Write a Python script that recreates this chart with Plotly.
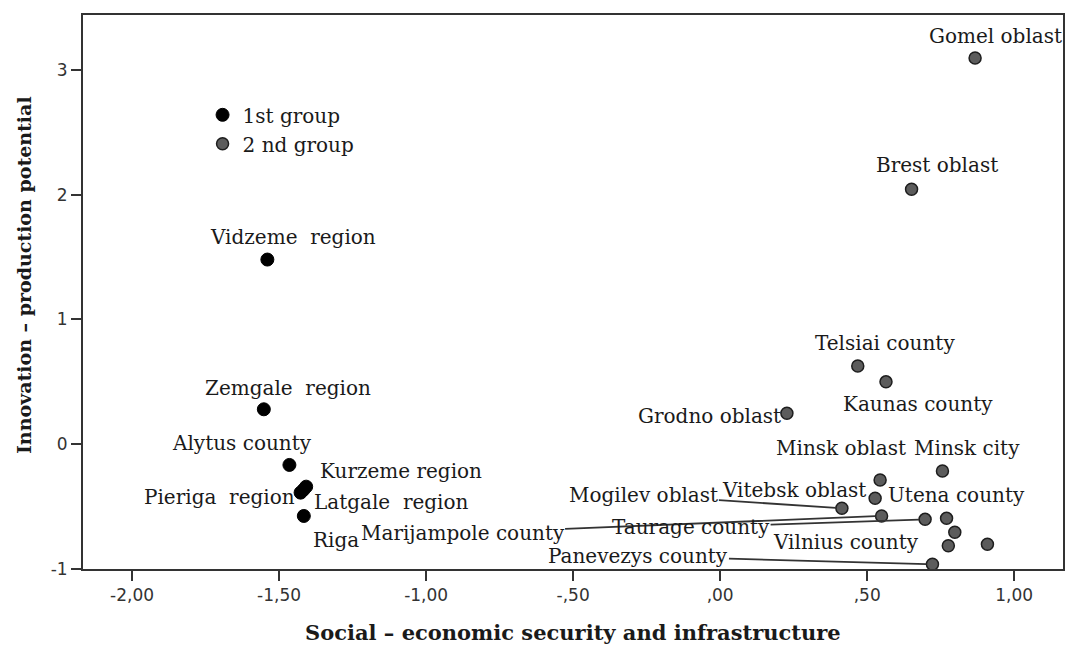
import plotly.graph_objects as go

# ---- data ----
group1_names = ["Vidzeme  region", "Zemgale  region", "Alytus county", "Kurzeme region",
                "Latgale  region", "Pieriga  region", "Riga"]
group1_x = [-1.540, -1.552, -1.465, -1.408, -1.417, -1.427, -1.416]
group1_y = [1.480, 0.280, -0.166, -0.340, -0.365, -0.388, -0.575]

group2_names = ["Gomel oblast", "Brest oblast", "Telsiai county", "Kaunas county", "Grodno oblast",
                "Minsk oblast", "Minsk city", "Vitebsk oblast", "Mogilev oblast", "Marijampole county",
                "Taurage county", "Utena county", "Klaipeda county", "Vilnius county",
                "Siauliai county", "Panevezys county"]
group2_x = [0.867, 0.651, 0.468, 0.564, 0.227, 0.544, 0.756, 0.527, 0.414, 0.549,
            0.697, 0.770, 0.798, 0.776, 0.909, 0.722]
group2_y = [3.096, 2.044, 0.627, 0.500, 0.248, -0.287, -0.214, -0.433, -0.513, -0.575,
            -0.602, -0.594, -0.706, -0.813, -0.802, -0.962]
# points shown without a label in the reference
unlabeled = ["Klaipeda county", "Siauliai county"]

group_names = ["1st group", "2 nd group"]

x_tickvals = [-2.0, -1.5, -1.0, -0.5, 0.0, 0.5, 1.0]
x_ticktext = ["-2,00", "-1,50", "-1,00", "-,50", ",00", ",50", "1,00"]
y_tickvals = [-1, 0, 1, 2, 3]
y_ticktext = ["-1", "0", "1", "2", "3"]

x_title = "Social – economic security and infrastructure"
y_title = "Innovation – production potential"

# ---- label placement (pixel offsets of label centre from point; leader line flag) ----
label_style = {
    "Vidzeme  region": (26, -23, False),
    "Zemgale  region": (24, -21, False),
    "Alytus county": (-47, -22, False),
    "Kurzeme region": (95, -16, False),
    "Latgale  region": (88, 12, False),
    "Pieriga  region": (-81, 4, False),
    "Riga": (32, 24, False),
    "Gomel oblast": (20, -22, False),
    "Brest oblast": (25, -24, False),
    "Telsiai county": (27, -23, False),
    "Kaunas county": (32, 22, False),
    "Grodno oblast": (-77, 3, False),
    "Minsk oblast": (-39, -32, False),
    "Minsk city": (25, -23, False),
    "Vitebsk oblast": (-81, -8, False),
    "Utena county": (10, -23, False),
    "Vilnius county": (-102, -4, False),
    "Mogilev oblast": (-198, -13, True),
    "Marijampole county": (-419, 17, True),
    "Taurage county": (-234, 8, True),
    "Panevezys county": (-294, -8, True),
}

label_font = dict(family="DejaVu Serif", size=20, color="#1a1a1a")


def show_text(s):
    # keep doubled spaces visible in SVG text
    return s.replace("  ", "\u00a0 ")


fig = go.Figure()
fig.add_trace(go.Scatter(
    x=group1_x, y=group1_y, mode="markers", name=group_names[0], text=group1_names,
    hoverinfo="text+x+y",
    marker=dict(size=13, color="#000000", line=dict(color="#000000", width=1)),
))
fig.add_trace(go.Scatter(
    x=group2_x, y=group2_y, mode="markers", name=group_names[1], text=group2_names,
    hoverinfo="text+x+y",
    marker=dict(size=12, color="#5c5c5c", line=dict(color="#1e1e1e", width=1.5)),
))

annotations = []
for names, xs, ys in [(group1_names, group1_x, group1_y), (group2_names, group2_x, group2_y)]:
    for n, xv, yv in zip(names, xs, ys):
        if n in unlabeled:
            continue
        dx, dy, leader = label_style[n]
        if leader:
            annotations.append(dict(
                x=xv, y=yv, xref="x", yref="y", text=show_text(n), showarrow=True,
                ax=dx, ay=dy, arrowhead=0, arrowwidth=1.8, arrowcolor="#333333",
                standoff=6, startstandoff=0, borderpad=0, font=label_font,
            ))
        else:
            annotations.append(dict(
                x=xv, y=yv, xref="x", yref="y", text=show_text(n), showarrow=False,
                xshift=dx, yshift=-dy, xanchor="center", yanchor="middle",
                font=label_font,
            ))

annotations.append(dict(
    x=0.5, y=-0.1155, xref="paper", yref="paper", text="<b>" + x_title + "</b>",
    showarrow=False, xanchor="center", yanchor="middle",
    font=dict(family="DejaVu Serif", size=21, color="#1a1a1a"),
))
annotations.append(dict(
    x=-0.060, y=0.531, xref="paper", yref="paper", text="<b>" + y_title + "</b>",
    showarrow=False, xanchor="center", yanchor="middle", textangle=-90,
    font=dict(family="DejaVu Serif", size=19, color="#1a1a1a"),
))

axis_common = dict(
    showline=True, mirror=True, linecolor="#333333", linewidth=2,
    ticks="outside", ticklen=10, tickwidth=2, tickcolor="#333333",
    showgrid=False, zeroline=False,
    tickfont=dict(family="DejaVu Sans", size=17, color="#333333"),
)

fig.update_layout(
    width=1066, height=646,
    margin=dict(l=83, r=1, t=15, b=77),
    paper_bgcolor="white", plot_bgcolor="white",
    xaxis=dict(range=[-2.167, 1.166], tickvals=x_tickvals, ticktext=x_ticktext, **axis_common),
    yaxis=dict(range=[-1.0, 3.44], tickvals=y_tickvals, ticktext=y_ticktext, **axis_common),
    showlegend=True,
    legend=dict(x=0.122, y=0.855, xanchor="left", yanchor="top", bgcolor="rgba(0,0,0,0)",
                font=dict(family="DejaVu Serif", size=20, color="#1a1a1a"),
                itemclick=False),
    annotations=annotations,
)

fig.write_html("out.html", config={"displayModeBar": False},
               post_script="document.body.style.margin='0';")
